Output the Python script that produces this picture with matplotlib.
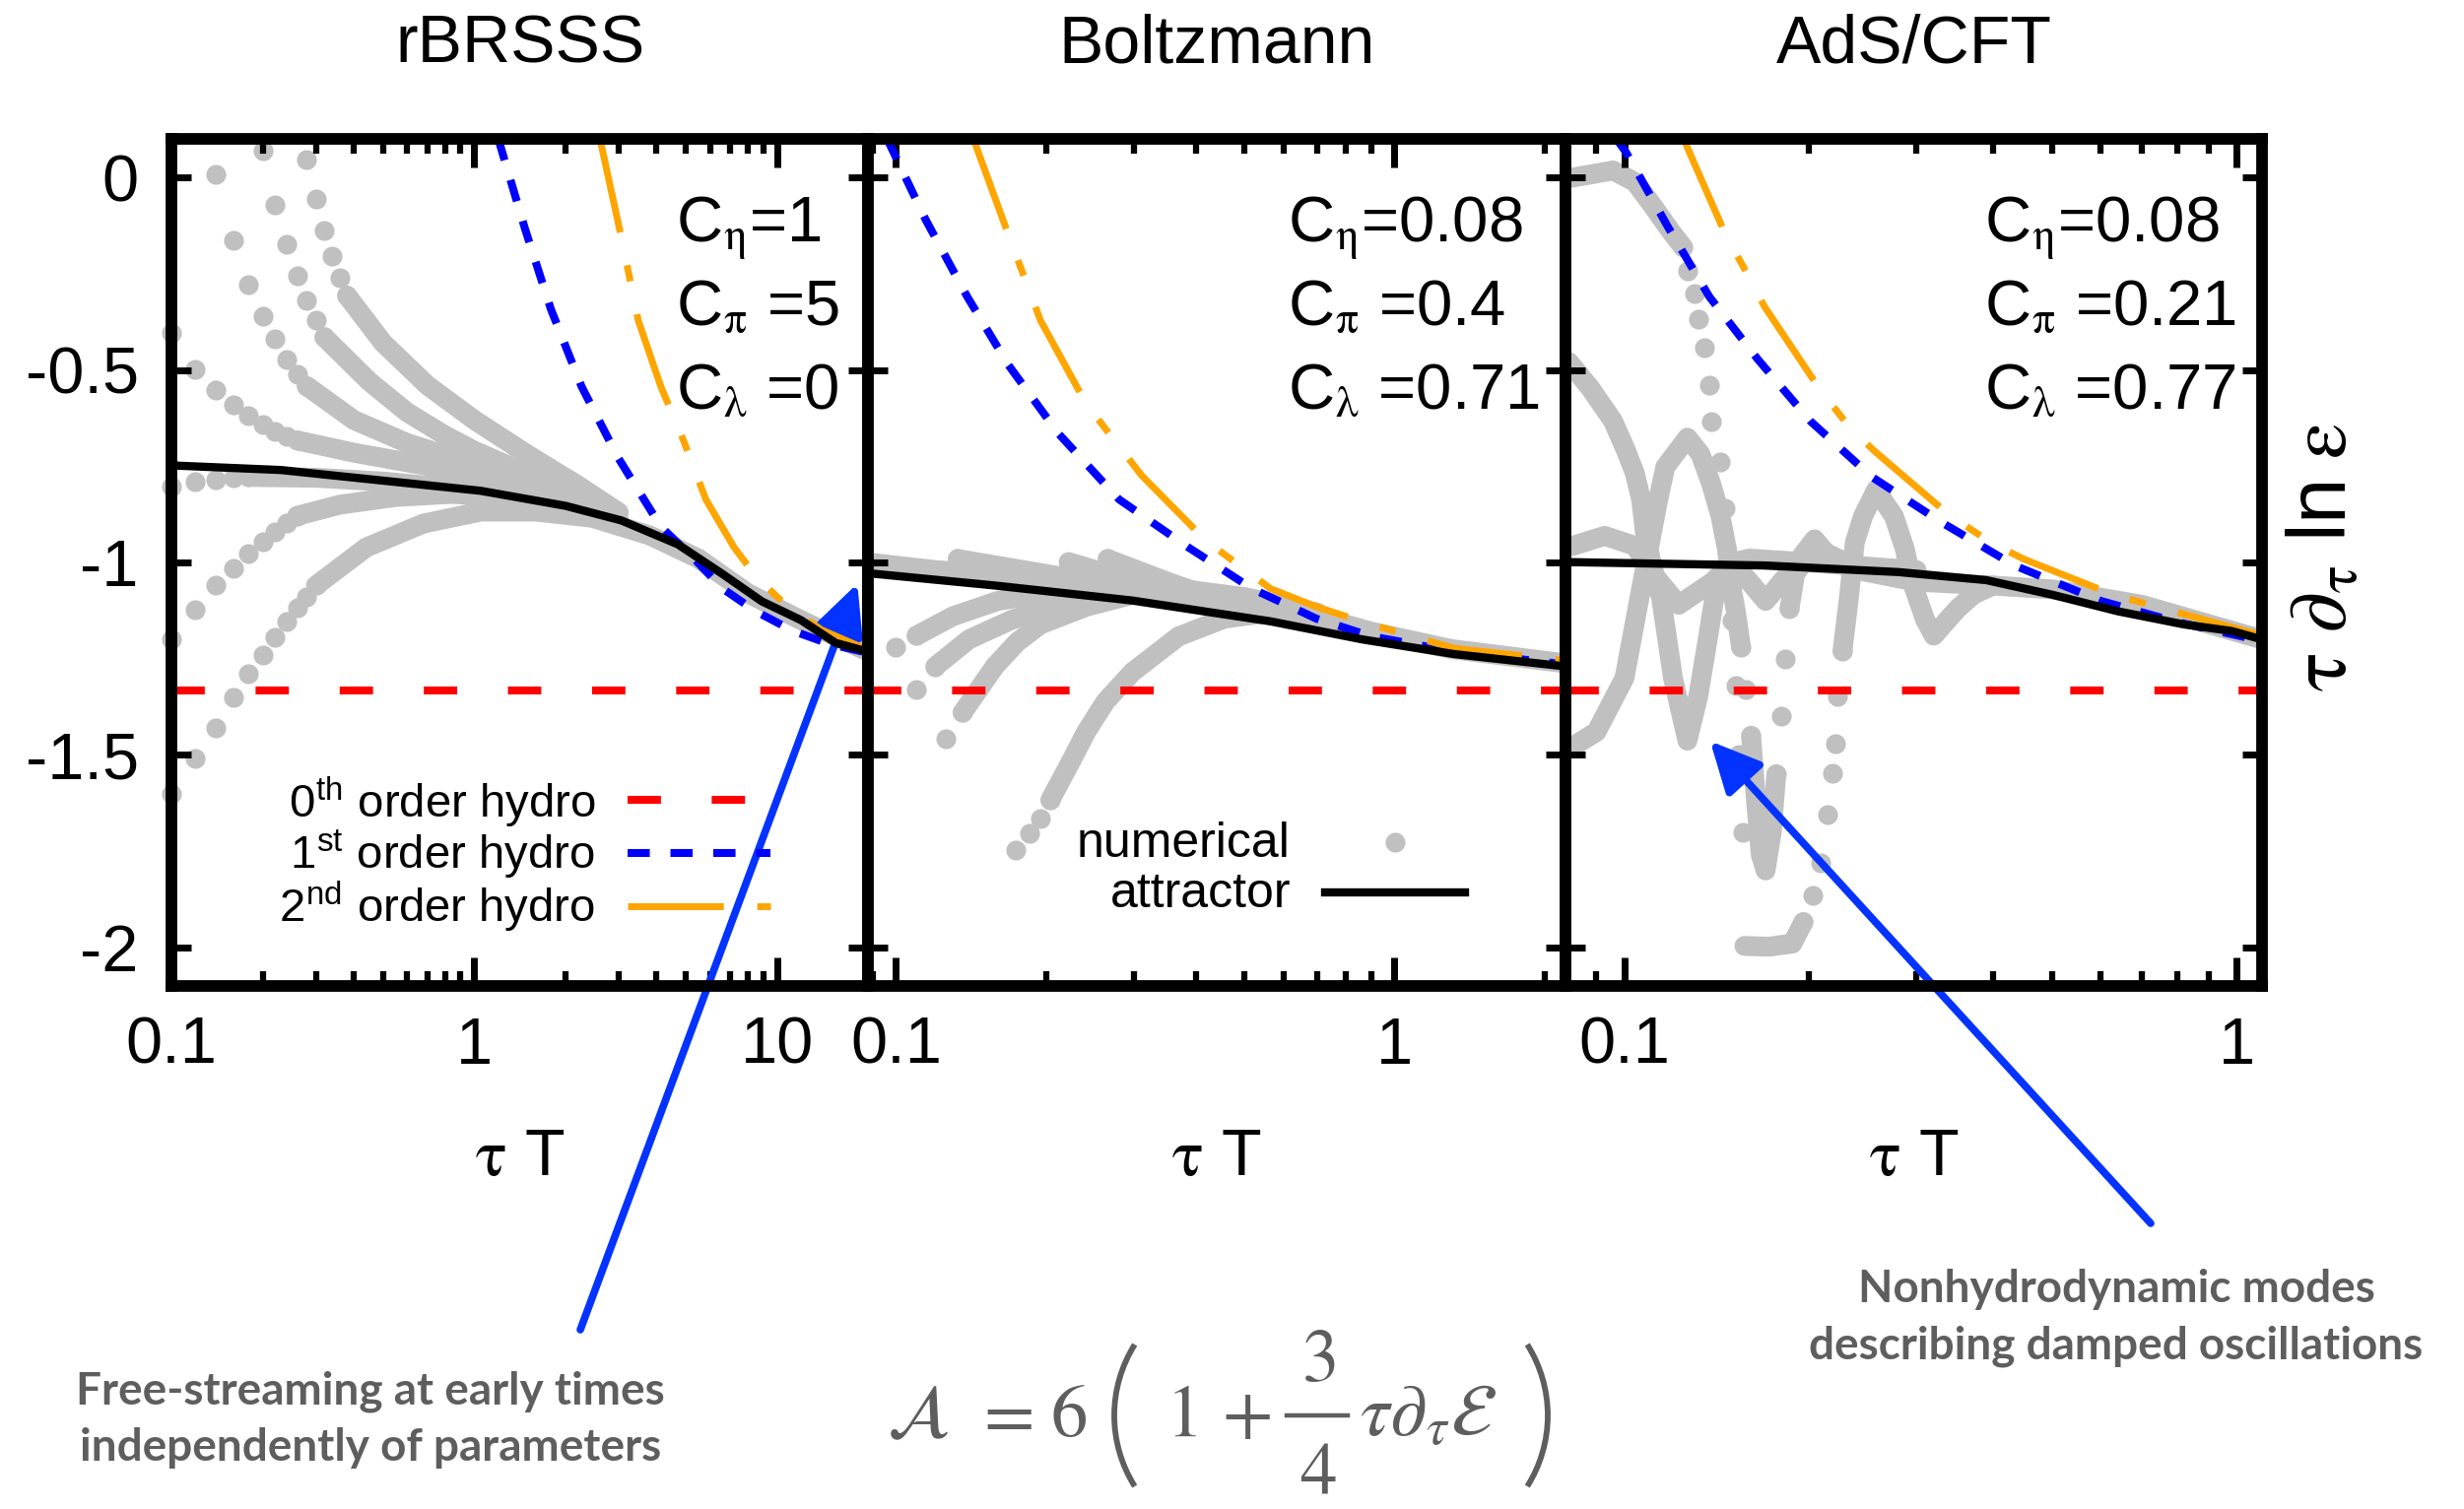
import matplotlib
matplotlib.use("Agg")
import matplotlib.pyplot as plt
from matplotlib.patches import Arc
from matplotlib.lines import Line2D
from matplotlib.ticker import FixedLocator, FixedFormatter, NullFormatter, LogLocator

plt.rcParams['font.family'] = ['Liberation Sans', 'DejaVu Sans']
plt.rcParams['mathtext.fontset'] = 'stix'

W, H = 2501, 1532

# ---------------- values ----------------
panel_titles = ['rBRSSS', 'Boltzmann', 'AdS/CFT']
panel_xlims = [(0.1, 20.0), (0.088, 2.2), (0.08, 1.1)]
panel_xticks = [[0.1, 1, 10], [0.1, 1], [0.1, 1]]
panel_xticklabels = [['0.1', '1', '10'], ['0.1', '1'], ['0.1', '1']]
y_ticks = [0, -0.5, -1, -1.5, -2]
y_ticklabels = ['0', '-0.5', '-1', '-1.5', '-2']
c_eta = ['1', '0.08', '0.08']
c_pi = ['5', '0.4', '0.21']
c_lambda = ['0', '0.71', '0.77']
ideal_level = -1.333  # 0th order hydro

# rBRSSS
rb_att_x = [0.1, 0.23, 0.55, 1.05, 2.0, 3.06, 4.7, 6.6, 8.9, 12.0, 15.6, 20]
rb_att_y = [-0.748, -0.760, -0.791, -0.814, -0.853, -0.891, -0.953, -1.030, -1.101, -1.150, -1.209, -1.232]
rb_h1_x = [1.2, 1.47, 1.79, 2.26, 2.99, 4.13, 5.33, 6.58, 8.5, 11.3, 14.9, 20]
rb_h1_y = [0.10, -0.133, -0.342, -0.543, -0.729, -0.907, -0.991, -1.067, -1.127, -1.178, -1.212, -1.235]
rb_h2_x = [2.6, 3.06, 3.48, 4.13, 4.9, 5.82, 7.21, 8.56, 10.6, 14, 20]
rb_h2_y = [0.10, -0.156, -0.372, -0.543, -0.682, -0.837, -0.961, -1.039, -1.108, -1.175, -1.228]
rb_dots = [
    ([0.10, 0.12, 0.14, 0.16, 0.18, 0.20, 0.22, 0.24, 0.26, 0.28, 0.30],
     [-1.60, -1.51, -1.43, -1.35, -1.29, -1.24, -1.195, -1.153, -1.118, -1.089, -1.060]),
    ([0.10, 0.12, 0.14, 0.16, 0.18, 0.20, 0.22, 0.24, 0.26],
     [-1.20, -1.123, -1.060, -1.016, -0.977, -0.947, -0.921, -0.898, -0.879]),
    ([0.10, 0.12, 0.14, 0.16, 0.18], [-0.804, -0.791, -0.786, -0.781, -0.778]),
    ([0.10, 0.12, 0.14, 0.16, 0.18, 0.20, 0.22, 0.24, 0.26],
     [-0.405, -0.498, -0.552, -0.591, -0.620, -0.642, -0.659, -0.672, -0.683]),
    ([0.14, 0.16, 0.18, 0.20, 0.22, 0.24, 0.26, 0.28],
     [0.007, -0.163, -0.278, -0.361, -0.420, -0.472, -0.511, -0.542]),
    ([0.20, 0.22, 0.24, 0.26, 0.28, 0.30, 0.32], [0.069, -0.071, -0.175, -0.256, -0.320, -0.371, -0.415]),
    ([0.28, 0.30, 0.32, 0.34, 0.36, 0.38], [0.046, -0.055, -0.139, -0.205, -0.260, -0.307]),
]
rb_bands = [
    ([0.30, 0.44, 0.68, 1.05, 1.6, 2.45, 3.8, 5.5, 8, 12, 20],
     [-1.060, -0.961, -0.899, -0.868, -0.868, -0.884, -0.930, -0.99, -1.08, -1.15, -1.232]),
    ([0.26, 0.36, 0.55, 0.84, 1.3, 2.0, 3.0], [-0.879, -0.850, -0.830, -0.822, -0.830, -0.853, -0.89]),
    ([0.18, 0.3, 0.5, 0.8, 1.2], [-0.778, -0.78, -0.79, -0.805, -0.82]),
    ([0.26, 0.4, 0.6, 1.0, 1.5, 2.2, 3.0], [-0.683, -0.715, -0.74, -0.77, -0.80, -0.85, -0.89]),
    ([0.28, 0.4, 0.6, 1.0, 1.5, 2.2], [-0.542, -0.63, -0.69, -0.745, -0.79, -0.845]),
    ([0.32, 0.45, 0.6, 0.8, 1.0, 1.5, 2.2], [-0.415, -0.53, -0.61, -0.67, -0.71, -0.77, -0.84]),
    ([0.38, 0.5, 0.7, 1.0, 1.5, 2.2, 3.0], [-0.307, -0.43, -0.54, -0.63, -0.72, -0.80, -0.87]),
]

# Boltzmann
bz_att_x = [0.088, 0.158, 0.298, 0.564, 0.862, 1.316, 2.2]
bz_att_y = [-1.028, -1.060, -1.099, -1.153, -1.200, -1.238, -1.27]
bz_h1_x = [0.096, 0.1146, 0.139, 0.168, 0.212, 0.280, 0.385, 0.518, 0.697, 0.899, 1.3, 2.2]
bz_h1_y = [0.10, -0.109, -0.310, -0.487, -0.666, -0.836, -0.960, -1.068, -1.146, -1.192, -1.23, -1.265]
bz_h2_x = [0.143, 0.168, 0.195, 0.241, 0.311, 0.419, 0.564, 0.697, 0.881, 1.316, 2.2]
bz_h2_y = [0.10, -0.148, -0.372, -0.589, -0.774, -0.944, -1.068, -1.115, -1.158, -1.223, -1.255]
bz_dots = [
    ([0.174, 0.185, 0.195, 0.204], [-1.746, -1.703, -1.664, -1.617]),
    ([0.126, 0.136], [-1.459, -1.39]),
    ([0.110, 0.120], [-1.331, -1.27]),
    ([0.0999, 0.11], [-1.221, -1.19]),
    ([0.133], [-0.991]), ([0.222], [-0.999]), ([0.266], [-0.991]),
]
bz_bands = [
    ([0.204, 0.226, 0.241, 0.263, 0.298, 0.369, 0.456, 0.564, 0.697, 0.9, 1.3, 2.2],
     [-1.617, -1.509, -1.439, -1.362, -1.285, -1.192, -1.146, -1.130, -1.14, -1.18, -1.225, -1.262]),
    ([0.136, 0.158, 0.175, 0.195, 0.241, 0.298, 0.369, 0.5, 0.7],
     [-1.39, -1.269, -1.207, -1.161, -1.115, -1.084, -1.068, -1.09, -1.13]),
    ([0.120, 0.14, 0.17, 0.21, 0.28, 0.4, 0.6], [-1.27, -1.20, -1.15, -1.11, -1.08, -1.08, -1.12]),
    ([0.11, 0.13, 0.16, 0.2, 0.3, 0.45], [-1.19, -1.14, -1.10, -1.08, -1.07, -1.10]),
    ([0.088, 0.12, 0.2, 0.3, 0.5], [-1.00, -1.02, -1.04, -1.07, -1.13]),
    ([0.133, 0.2, 0.3, 0.45], [-0.991, -1.03, -1.07, -1.11]),
    ([0.222, 0.3, 0.45], [-0.999, -1.05, -1.10]),
    ([0.266, 0.35, 0.5], [-0.991, -1.05, -1.12]),
]

# AdS/CFT
ads_att_x = [0.08, 0.17, 0.28, 0.39, 0.50, 0.64, 0.82, 0.98, 1.1]
ads_att_y = [-0.999, -1.008, -1.025, -1.046, -1.084, -1.127, -1.161, -1.178, -1.20]
ads_h1_x = [0.097, 0.1006, 0.1176, 0.1376, 0.165, 0.2012, 0.2536, 0.3304, 0.4338, 0.6, 0.8, 1.1]
ads_h1_y = [0.10, 0.065, -0.127, -0.310, -0.472, -0.633, -0.778, -0.897, -1.008, -1.10, -1.155, -1.204]
ads_h2_x = [0.125, 0.1267, 0.1458, 0.1597, 0.1692, 0.208, 0.2334, 0.2557, 0.3386, 0.3963, 0.4485, 0.629, 1.1]
ads_h2_y = [0.10, 0.077, -0.144, -0.259, -0.335, -0.548, -0.650, -0.710, -0.876, -0.948, -0.991, -1.084, -1.19]
ads_dots = [
    # free-streaming start that dives down to the -2 floor
    ([0.127, 0.130, 0.132, 0.135, 0.1376, 0.1385, 0.1435, 0.146, 0.148, 0.150, 0.152, 0.154, 0.156],
     [-0.242, -0.301, -0.369, -0.442, -0.540, -0.633, -0.740, -0.86, -1.0, -1.15, -1.32, -1.5, -1.7]),
    ([0.196, 0.203, 0.209, 0.215, 0.219, 0.221, 0.223, 0.227],
     [-1.934, -1.865, -1.78, -1.656, -1.548, -1.47, -1.347, -1.23]),
    # deep oscillation after the early peak
    ([0.155, 0.158, 0.161], [-1.22, -1.33, -1.45]),
    ([0.177, 0.180, 0.183, 0.186], [-1.55, -1.40, -1.25, -1.12]),
]
ads_bands = [
    ([0.08, 0.0958, 0.104, 0.111, 0.119, 0.1248], [-0.004, 0.018, -0.012, -0.072, -0.140, -0.182]),
    ([0.157, 0.172, 0.188, 0.196], [-1.996, -1.998, -1.99, -1.934]),
    ([0.227, 0.232, 0.2378, 0.2453, 0.2576, 0.2755, 0.287, 0.2947, 0.31, 0.32, 0.35, 0.372, 0.4, 0.5, 0.7, 1.1],
     [-1.23, -1.107, -0.948, -0.880, -0.812, -0.880, -0.965, -1.050, -1.15, -1.19, -1.12, -1.083,
      -1.06, -1.07, -1.11, -1.20]),
    ([0.0812, 0.088, 0.0958, 0.1006, 0.104, 0.1065, 0.108, 0.111, 0.1148, 0.12, 0.1267, 0.132, 0.137,
      0.141, 0.15, 0.16, 0.2, 0.3],
     [-0.48, -0.548, -0.633, -0.710, -0.769, -0.838, -0.923, -1.008, -1.093, -1.3, -1.463, -1.347,
      -1.192, -1.068, -1.0, -0.99, -1.0, -1.02]),
    ([0.0823, 0.09, 0.1, 0.107, 0.1135, 0.1166, 0.1267, 0.133, 0.1385, 0.1435, 0.147, 0.149, 0.152,
      0.155],
     [-1.478, -1.44, -1.30, -1.05, -0.838, -0.752, -0.676, -0.718, -0.795, -0.880, -0.965, -1.05,
      -1.127, -1.22]),
    ([0.161, 0.164, 0.167, 0.170, 0.174, 0.177], [-1.45, -1.62, -1.76, -1.80, -1.70, -1.55]),
    ([0.186, 0.19, 0.2, 0.21, 0.23, 0.26, 0.3], [-1.12, -1.03, -0.98, -0.97, -1.0, -1.03, -1.05]),
    ([0.0823, 0.0928, 0.104, 0.11, 0.1226, 0.1394, 0.15, 0.16, 0.17, 0.185, 0.2044, 0.22, 0.24, 0.3, 0.4],
     [-0.957, -0.931, -0.957, -1.02, -1.11, -1.05, -1.0, -1.05, -1.1, -1.03, -0.940, -1.0, -1.02,
      -1.05, -1.06]),
]

panels = [
    (rb_att_x, rb_att_y, rb_h1_x, rb_h1_y, rb_h2_x, rb_h2_y, rb_dots, rb_bands),
    (bz_att_x, bz_att_y, bz_h1_x, bz_h1_y, bz_h2_x, bz_h2_y, bz_dots, bz_bands),
    (ads_att_x, ads_att_y, ads_h1_x, ads_h1_y, ads_h2_x, ads_h2_y, ads_dots, ads_bands),
]

GRAY = '#c0c0c0'
ARROW = '#0433ff'
NOTE = '#5e5e5e'
DOT = 14.5

fig = plt.figure(figsize=(W / 100, H / 100), dpi=100)
x0, x1, y0, y1 = 174 / W, 2296 / W, 1 - 1001 / H, 1 - 141 / H
pw = (x1 - x0) / 3
axes = []
for i, (ax_x, ax_y, h1x, h1y, h2x, h2y, dots, bands) in enumerate(panels):
    ax = fig.add_axes([x0 + i * pw, y0, pw, y1 - y0])
    axes.append(ax)
    ax.set_xscale('log')
    for bx, by in bands:
        ax.plot(bx, by, color=GRAY, lw=DOT, solid_capstyle='round', solid_joinstyle='round', zorder=1)
    for dx, dy in dots:
        ax.plot(dx, dy, 'o', ms=DOT, color=GRAY, mec='none', zorder=1, clip_on=False)
    ax.axhline(ideal_level, color='red', lw=5.8, dashes=(4.2, 6.4), zorder=2)
    ax.plot(h1x, h1y, color='blue', lw=5.8, dashes=(2.8, 2.6), zorder=3)
    ax.plot(h2x, h2y, color='orange', lw=5, dashes=(14, 4.9, 2.4, 4.9), zorder=4)
    ax.plot(ax_x, ax_y, color='black', lw=6, zorder=5)

    ax.set_xlim(*panel_xlims[i])
    ax.set_ylim(-2.1, 0.1)
    ax.xaxis.set_major_locator(FixedLocator(panel_xticks[i]))
    ax.xaxis.set_major_formatter(FixedFormatter(panel_xticklabels[i]))
    ax.xaxis.set_minor_locator(LogLocator(base=10, subs=range(2, 10), numticks=20))
    ax.xaxis.set_minor_formatter(NullFormatter())
    ax.set_yticks(y_ticks)
    ax.set_yticklabels(y_ticklabels)
    ax.tick_params(axis='x', which='major', direction='in', length=21, width=5, top=True,
                   labelsize=48, pad=22)
    ax.tick_params(axis='x', which='minor', direction='in', length=11, width=4.5, top=True)
    ax.tick_params(axis='y', which='major', direction='in', length=14.5, width=5, right=True,
                   labelsize=48, pad=24, labelleft=(i == 0))
    for s in ax.spines.values():
        s.set_linewidth(8.5)
        s.set_zorder(6)

    fig.text(x0 + (i + 0.5) * pw, 1 - 64 / H, panel_titles[i], fontsize=49, ha='center', va='baseline')
    fig.text(x0 + (i + 0.5) * pw, 1 - 1193 / H, r'$\mathrm{\tau}$ T', fontsize=48, ha='center',
             va='baseline')

    cx = 0.724 if i == 0 else 0.602
    ax.text(cx, 0.879, r'C$_{\mathrm{\eta}}$=' + c_eta[i], transform=ax.transAxes, fontsize=47,
            va='baseline')
    ax.text(cx, 0.780, r'C$_{\mathrm{\pi}}$ =' + c_pi[i], transform=ax.transAxes, fontsize=47,
            va='baseline')
    ax.text(cx, 0.681, r'C$_{\mathrm{\lambda}}$ =' + c_lambda[i], transform=ax.transAxes, fontsize=47,
            va='baseline')

# legend of the hydro orders (panel 1)
ax = axes[0]
leg_rows = [('0', 'th', 0.1988, 0.2198, dict(color='red', lw=5.8, dashes=(4.2, 6.4))),
            ('1', 'st', 0.1372, 0.1570, dict(color='blue', lw=5.8, dashes=(2.8, 2.6))),
            ('2', 'nd', 0.0756, 0.0942, dict(color='orange', lw=5, dashes=(14, 4.9, 2.4, 4.9)))]
for num, sup, ty, ly, style in leg_rows:
    ax.text(0.608, ty, num + r'$^{\mathregular{' + sup + r'}}$ order hydro', transform=ax.transAxes,
            fontsize=34, ha='right', va='baseline')
    ax.plot([0.655, 0.860], [ly, ly], transform=ax.transAxes, zorder=7, **style)

# legend of numerical / attractor (panel 2)
ax = axes[1]
ax.text(0.606, 0.1527, 'numerical', transform=ax.transAxes, fontsize=36, ha='right', va='baseline')
ax.text(0.606, 0.093, 'attractor', transform=ax.transAxes, fontsize=36, ha='right', va='baseline')
ax.plot([0.7555], [0.1703], 'o', ms=DOT, color=GRAY, mec='none', transform=ax.transAxes)
ax.plot([0.6556, 0.8564], [0.1105, 0.1105], color='black', lw=6, transform=ax.transAxes)

fig.text(2360 / W, 1 - 566 / H,
         r'$\mathrm{\tau}\ \partial_{\mathrm{\tau}}\ \mathregular{ln}\ \mathrm{\varepsilon}$',
         fontsize=60, rotation=90, ha='center', va='center')

# annotations
arrow_kw = dict(arrowstyle='-|>,head_length=31,head_width=15', lw=5.5, color=ARROW,
                shrinkA=0, shrinkB=0, mutation_scale=1)
axes[0].annotate('', xy=(18.4, -1.055), xytext=(589 / W, 1 - 1350 / H),
                 textcoords='figure fraction', arrowprops=arrow_kw, annotation_clip=False)
axes[2].annotate('', xy=(0.138, -1.464), xytext=(2183 / W, 1 - 1242 / H),
                 textcoords='figure fraction', arrowprops=arrow_kw, annotation_clip=False)

note_font = dict(family=['Lato', 'DejaVu Sans'], weight='bold', fontsize=33, color=NOTE,
                 ha='center', va='baseline')
fig.text(376 / W, 1 - 1425 / H, 'Free-streaming at early times', **note_font)
fig.text(376 / W, 1 - 1483 / H, 'independently of parameters', **note_font)
fig.text(2148 / W, 1 - 1322 / H, 'Nonhydrodynamic modes', **note_font)
fig.text(2148 / W, 1 - 1380 / H, 'describing damped oscillations', **note_font)

# the attractor-variable formula, set piece by piece (full-size fraction, tall brackets)
eq = dict(fontsize=54, color=NOTE, ha='center', va='baseline')
base = 1 - 1458 / H
fig.text(931 / W, base, r'$\mathcal{A}$', **eq)
fig.text(1018 / W, base, r'$=$', **eq)
fig.text(1085 / W, base, r'$6$', **eq)
fig.text(1199 / W, base, r'$1$', **eq)
fig.text(1265 / W, base, r'$+$', **eq)
fig.text(1338 / W, 1 - 1402 / H, r'$3$', **eq)
fig.text(1338 / W, 1 - 1517 / H, r'$4$', **eq)
fig.text(1450 / W, base, r'$\tau\partial_{\tau}\mathcal{E}$', **eq)
fig.add_artist(Line2D([1306 / W, 1368 / W], [1 - 1437 / H, 1 - 1437 / H], color=NOTE, lw=3.2))
R = 135.0
for cxp, t1, t2 in [(1131 + R, 180 - 45.8, 180 + 45.8), (1571 - R, -45.8, 45.8)]:
    fig.add_artist(Arc((cxp / W, 1 - 1437 / H), 2 * R / W, 2 * R / H, theta1=t1, theta2=t2,
                       color=NOTE, lw=4.2))

fig.savefig('out.png', dpi=100)
